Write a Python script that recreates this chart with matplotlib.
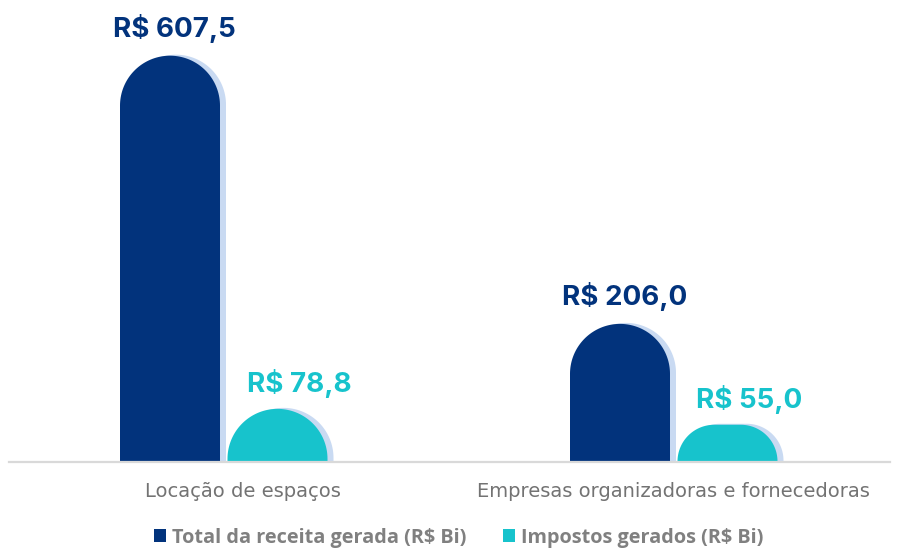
import numpy as np
import matplotlib
matplotlib.use("Agg")
import matplotlib.pyplot as plt
from matplotlib.patches import Polygon, Patch

categories = ["Locação de espaços", "Empresas organizadoras e fornecedoras"]
receita = [607.5, 206.0]
impostos = [78.8, 55.0]
receita_labels = ["R$ 607,5", "R$ 206,0"]
impostos_labels = ["R$ 78,8", "R$ 55,0"]
series_names = ["Total da receita gerada (R$ Bi)", "Impostos gerados (R$ Bi)"]

DARK = "#02337c"
TEAL = "#17c3cc"
SHADOW = "#c9daf2"
GRAY_TXT = "#737373"

W, H = 900, 549
fig = plt.figure(figsize=(W / 100, H / 100), dpi=100)
base_px = 461.5
ax = fig.add_axes([9 / W, (H - base_px) / H, (890 - 9) / W, base_px / H])

gap = 450.0  # px between groups
ppy = 0.668  # px per data unit (y)
xmin = (9 - 223.75) / gap
xmax = (890 - 223.75) / gap
ax.set_xlim(xmin, xmax)
ax.set_ylim(0, base_px / ppy)

bw = 100 / gap
off = 53.75 / gap


def rounded_bar(xc, h, color, dx_px=0.0, dy_px=0.0, z=2):
    rx = bw / 2
    r_px = min(50.0, h * ppy)
    rxc = r_px / gap
    ryc = r_px / ppy
    x0, x1 = xc - rx + dx_px / gap, xc + rx + dx_px / gap
    y_top = h + dy_px / ppy
    pts = [(x0, 0)]
    t = np.linspace(np.pi, np.pi / 2, 40)
    cx, cy = x0 + rxc, y_top - ryc
    pts += list(zip(cx + rxc * np.cos(t), cy + ryc * np.sin(t)))
    t = np.linspace(np.pi / 2, 0, 40)
    cx = x1 - rxc
    pts += list(zip(cx + rxc * np.cos(t), cy + ryc * np.sin(t)))
    pts += [(x1, 0)]
    ax.add_patch(Polygon(pts, closed=True, facecolor=color, edgecolor="none", zorder=z))


x = np.arange(len(categories))
for i in range(len(categories)):
    for val, xc, col in [(receita[i], x[i] - off, DARK), (impostos[i], x[i] + off, TEAL)]:
        rounded_bar(xc, val, SHADOW, dx_px=6, dy_px=1, z=1)
        rounded_bar(xc, val, col, z=2)

label_font = ["Inter", "DejaVu Sans"]
for i in range(len(categories)):
    ax.annotate(receita_labels[i], (x[i] - off, receita[i]), xytext=(3, 13.5),
                textcoords="offset points", ha="center", va="baseline",
                fontsize=20, fontweight="bold", color=DARK, family=label_font)
    ax.annotate(impostos_labels[i], (x[i] + off, impostos[i]), xytext=(15.5, 12),
                textcoords="offset points", ha="center", va="baseline",
                fontsize=20, fontweight="bold", color=TEAL, family=label_font)

# category labels
cat_offsets = [19, 0]
for i, c in enumerate(categories):
    ax.annotate(c, (x[i], 0), xytext=(cat_offsets[i] * 0.72, -25.5), textcoords="offset points",
                ha="center", va="baseline", fontsize=14, color=GRAY_TXT,
                family=["DejaVu Sans"])

for s in ["top", "right", "left"]:
    ax.spines[s].set_visible(False)
ax.spines["bottom"].set_color("#d9d9d9")
ax.spines["bottom"].set_linewidth(1.6)
ax.set_xticks([])
ax.set_yticks([])
ax.patch.set_alpha(0)

handles = [Patch(facecolor=DARK, edgecolor="none"), Patch(facecolor=TEAL, edgecolor="none")]
leg = fig.legend(handles, series_names, loc="center", bbox_to_anchor=(459 / W, 1 - 537.5 / H),
                 ncol=2, frameon=False, handlelength=0.6, handleheight=0.6,
                 handletextpad=0.3, columnspacing=1.85, borderpad=0.1,
                 prop={"family": ["Open Sans", "DejaVu Sans"], "weight": "bold", "size": 14.3})
for t in leg.get_texts():
    t.set_color("#808080")

fig.savefig("out.png", dpi=100)
